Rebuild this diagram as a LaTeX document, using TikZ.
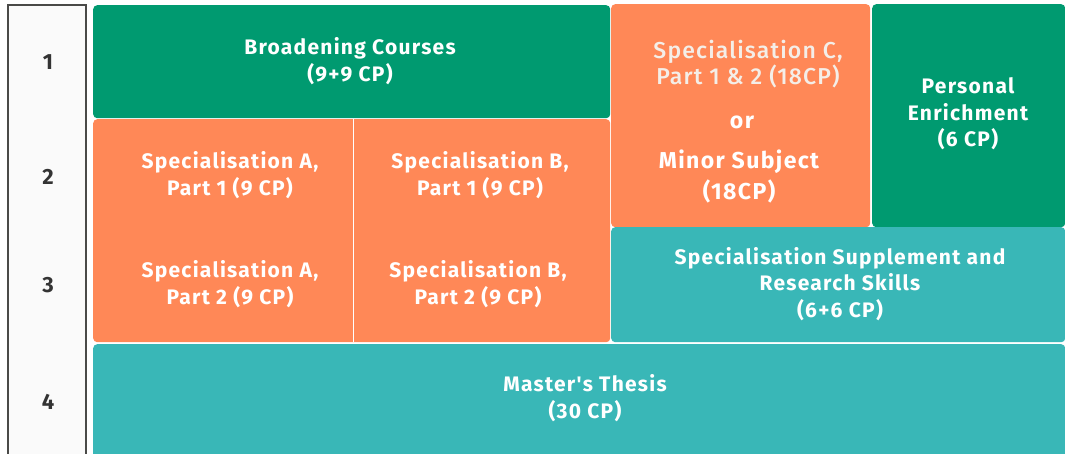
\documentclass[tikz,border=0pt]{standalone}
\usepackage{fontspec}
\setmainfont{Fira Sans}[LetterSpace=6, Ligatures=TeXOff]
\newfontfamily\firamed{Fira Sans Medium}[LetterSpace=5, Ligatures=TeXOff]
\definecolor{cgreen}{RGB}{0,154,112}
\definecolor{corange}{RGB}{255,136,87}
\definecolor{cteal}{RGB}{57,183,183}
\definecolor{cframe}{RGB}{74,74,72}
\definecolor{cnum}{RGB}{51,51,51}
\definecolor{cpale}{RGB}{244,238,232}
\begin{document}
\begin{tikzpicture}[x=1pt,y=-1pt,
  block/.style={rounded corners=4pt, draw=none, inner sep=0pt, anchor=north west},
  lbl/.style={text=white, font=\fontsize{21}{26.5}\selectfont\bfseries, align=center, inner sep=0pt},
  big/.style={font=\fontsize{23}{31}\selectfont\bfseries},
  num/.style={text=cnum, font=\fontsize{22}{22}\selectfont\bfseries, inner sep=0pt}]
\useasboundingbox (0,0) rectangle (1065,454);
\fill[white] (0,0) rectangle (1065,454);
% year column
\draw[cframe, line width=1.5pt, fill={rgb,255:red,250;green,250;blue,250}] (8,464) -- (8,5) -- (86,5) -- (86,464);
\node[num] (n1) at (48,62) {1};
\node[num] (n2) at (48,177) {2};
\node[num] (n3) at (48,285) {3};
\node[num] (n4) at (48,402) {4};
% blocks
\node[block, fill=cgreen, minimum width=517pt, minimum height=113pt] (broad) at (93,5) {};
\node[block, fill=corange, minimum width=517pt, minimum height=223pt] (spec) at (93,119) {};
\draw[white, line width=0.6pt] (353,119) -- (353,342);
\node[block, fill=corange, minimum width=259pt, minimum height=223pt] (specc) at (611,4) {};
\node[block, fill=cgreen, minimum width=193pt, minimum height=223pt] (pers) at (872,4) {};
\node[block, fill=cteal, minimum width=454pt, minimum height=115pt] (supp) at (611,227) {};
\node[block, fill=cteal, minimum width=972pt, minimum height=120pt] (thesis) at (93,344) {};
% labels
\node[lbl] (tbroad) at (350,61) {Broadening Courses\\(9+9 CP)};
\node[lbl] (ta1) at (230,175) {Specialisation A,\\Part 1 (9 CP)};
\node[lbl] (tb1) at (480,175) {Specialisation B,\\Part 1 (9 CP)};
\node[lbl] (ta2) at (230,284) {Specialisation A,\\Part 2 (9 CP)};
\node[lbl] (tb2) at (478,284) {Specialisation B,\\Part 2 (9 CP)};
\node[lbl, text=cpale, font=\fontsize{23}{26}\selectfont\firamed] (tc) at (748,64) {Specialisation C,\\Part 1 \& 2 (18CP)};
\node[lbl, big] (tor) at (742,122) {or};
\node[lbl, big] (tminor) at (739,177) {Minor Subject\\(18CP)};
\node[lbl] (tpers) at (968,114) {Personal\\Enrichment\\(6 CP)};
\node[lbl] (tsupp) at (840,284) {Specialisation Supplement and\\Research Skills\\(6+6 CP)};
\node[lbl] (tthesis) at (585,398) {Master's Thesis\\(30 CP)};
\end{tikzpicture}
\end{document}
